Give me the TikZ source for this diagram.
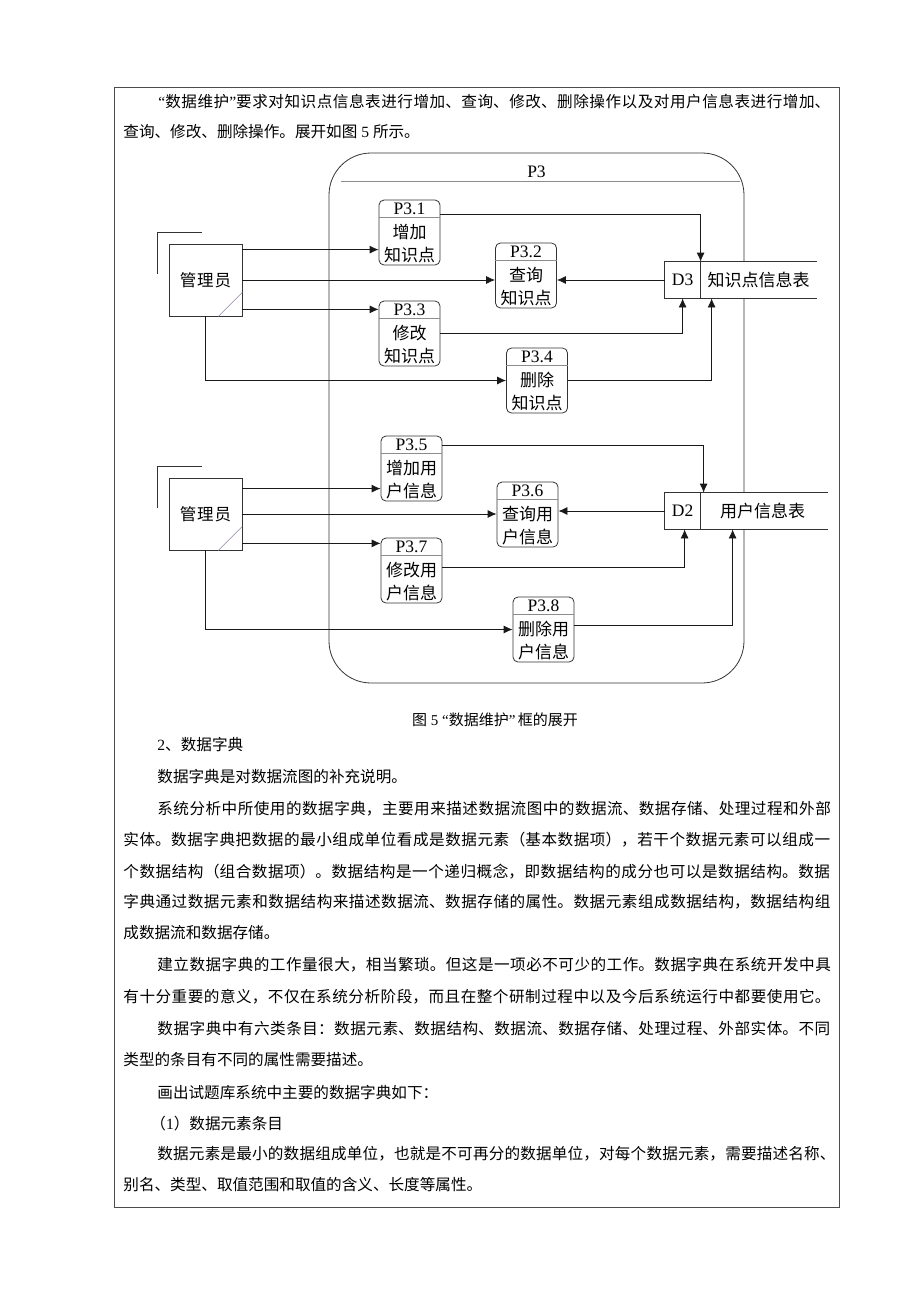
\documentclass[tikz,border=0pt]{standalone}
\usepackage{fontspec}
\setmainfont{Liberation Serif}
\newfontfamily\cjk{Noto Sans CJK SC}
\newfontfamily\latin{Liberation Serif}
\usetikzlibrary{arrows.meta,calc}
\XeTeXlinebreaklocale "zh"
\XeTeXlinebreakskip=0pt plus 2pt
\definecolor{diagc}{RGB}{150,130,165}
\newcommand\bodyfont{\cjk\fontsize{15.6}{18}\selectfont}
\newcommand\fullline[3]{\node[anchor=west,inner sep=0pt,text width=#2pt,font=\bodyfont] at (#1) {\noindent\parfillskip=0pt #3\par};}
\newcommand\natline[2]{\node[anchor=west,inner sep=0pt,font=\bodyfont] at (#1) {#2};}
\newcommand\mkproc[6]{%
  \node[procbox] (#1) at (#2,#3+32.5) {};
  \draw[sepline] ($(#1.north west)+(0,18)$) -- ($(#1.north east)+(0,18)$);
  \node[ptitle] at ($(#1.north)+(0,9.5)$) {#4};
  \node[ptext] at ($(#1.north)+(0,32)$) {#5};
  \node[ptext] at ($(#1.north)+(0,55)$) {#6};
}
\begin{document}
\begin{tikzpicture}[x=1pt,y=-1pt,line width=0.8pt,
  flow/.style={draw=black!90,-{Latex[length=9pt,width=8pt]}},
  procbox/.style={draw=black!80,rounded corners=5pt,minimum width=61pt,minimum height=65pt,inner sep=0pt,fill=white},
  sepline/.style={draw=black!45,line width=0.6pt},
  ptitle/.style={font=\latin\fontsize{17.5}{17.5}\selectfont,inner sep=0pt},
  ptext/.style={font=\cjk\fontsize{17}{17}\selectfont,inner sep=0pt},
  extbox/.style={draw=black!80,minimum width=73pt,minimum height=72pt,inner sep=0pt,font=\cjk\fontsize{16.5}{17}\selectfont},
  storebox/.style={minimum height=36pt,inner sep=0pt,fill=white},
  storetext/.style={font=\cjk\fontsize{17}{17}\selectfont,inner sep=0pt}]
\useasboundingbox (0,0) rectangle (920,1302);
\fill[white] (0,0) rectangle (920,1302);
% page frame
\draw[draw=black!70,line width=0.9pt] (114,87) rectangle (839,1207);

% text above
\fullline{158,102}{680}{{\latin “}数据维护{\latin ”}要求对知识点信息表进行增加、查询、修改、删除操作以及对用户信息表进行增加、}
\natline{123,132}{查询、修改、删除操作。展开如图{\latin\ 5 }所示。}

% P3 container
\node[draw=black!80,rounded corners=42pt,minimum width=415pt,minimum height=530pt,inner sep=0pt] (p3) at (536.5,418) {};
\node[ptitle] at ($(p3.north)+(0,19)$) {P3};
\draw[sepline] ($(p3.north west)+(12,29)$) -- ($(p3.north east)+(-4,29)$);

% external entities
\node[extbox] (m1) at (205.5,280) {管\hspace{1pt}理\hspace{1pt}员};
\draw[draw=black!80] ($(m1.north west)+(-11,30)$) -- ($(m1.north west)+(-11,-11)$) -- ($(m1.north west)+(33,-11)$);
\draw[draw=diagc,line width=0.6pt] ($(m1.south east)+(-24,0)$) -- ($(m1.south east)+(0,-24)$);
\node[extbox] (m2) at (205.5,514) {管\hspace{1pt}理\hspace{1pt}员};
\draw[draw=black!80] ($(m2.north west)+(-11,30)$) -- ($(m2.north west)+(-11,-11)$) -- ($(m2.north west)+(33,-11)$);
\draw[draw=diagc,line width=0.6pt] ($(m2.south east)+(-24,0)$) -- ($(m2.south east)+(0,-24)$);

% data stores
\node[storebox,minimum width=152pt] (d3) at (741,280) {};
\draw[draw=black!80] (d3.north east) -- (d3.north west) -- (d3.south west) -- (d3.south east);
\draw[draw=black!80] ($(d3.north west)+(36,0)$) -- ($(d3.south west)+(36,0)$);
\node[ptitle] at ($(d3.west)+(18,0)$) {D3};
\node[storetext] at ($(d3.west)+(94,0)$) {知识点信息表};
\node[storebox,minimum width=163pt] (d2) at (746.5,511) {};
\draw[draw=black!80] (d2.north east) -- (d2.north west) -- (d2.south west) -- (d2.south east);
\draw[draw=black!80] ($(d2.north west)+(36,0)$) -- ($(d2.south west)+(36,0)$);
\node[ptitle] at ($(d2.west)+(18,0)$) {D2};
\node[storetext] at ($(d2.west)+(98,0)$) {用户信息表};

% processes
\mkproc{p31}{409.5}{200}{P3.1}{增加}{知识点}
\mkproc{p32}{526}{243}{P3.2}{查询}{知识点}
\mkproc{p33}{409.5}{301}{P3.3}{修改}{知识点}
\mkproc{p34}{537}{348}{P3.4}{删除}{知识点}
\mkproc{p35}{411.5}{436}{P3.5}{增加用}{户信息}
\mkproc{p36}{527.5}{482}{P3.6}{查询用}{户信息}
\mkproc{p37}{411.5}{538}{P3.7}{修改用}{户信息}
\mkproc{p38}{543.5}{597}{P3.8}{删除用}{户信息}

% coordinates on stores
\coordinate (d3a) at ($(d3.north west)+(36,0)$);
\coordinate (d3b) at ($(d3.south west)+(18,0)$);
\coordinate (d3c) at ($(d3.south west)+(47,0)$);
\coordinate (d2a) at ($(d2.north west)+(39,0)$);
\coordinate (d2b) at ($(d2.south west)+(20,0)$);
\coordinate (d2c) at ($(d2.south west)+(68,0)$);

% flows group 1
\draw[flow] ($(m1.north east)+(0,6)$) -- (p31.west |- {$(m1.north east)+(0,6)$});
\draw[flow] (m1.east) -- (p32.west |- m1.east);
\draw[flow] ($(m1.south east)+(0,-7)$) -- (p33.west |- {$(m1.south east)+(0,-7)$});
\draw[flow] (m1.south) |- (p34.west);
\draw[flow] ($(p31.north east)+(0,15)$) -| (d3a);
\draw[flow] (d3.west) -- (p32.east |- d3.west);
\draw[flow] ($(p33.north east)+(0,33)$) -| (d3b);
\draw[flow] (p34.east) -| (d3c);

% flows group 2
\draw[flow] ($(m2.north east)+(0,11)$) -- (p35.west |- {$(m2.north east)+(0,11)$});
\draw[flow] (m2.east) -- (p36.west |- m2.east);
\draw[flow] ($(m2.south east)+(0,-7)$) -- (p37.west |- {$(m2.south east)+(0,-7)$});
\draw[flow] (m2.south) |- (p38.west);
\draw[flow] ($(p35.north east)+(0,10)$) -| (d2a);
\draw[flow] (d2.west) -- (p36.east |- d2.west);
\draw[flow] ($(p37.north east)+(0,30)$) -| (d2b);
\draw[flow] ($(p38.north east)+(0,29)$) -| (d2c);

% caption and text below
\node[font=\cjk\fontsize{15}{17}\selectfont,inner sep=0pt] (cap) at (495,720) {图{\latin\ 5 }{\latin “}数据维护{\latin ”}\,框的展开};
\natline{157,745}{{\latin 2}、数据字典}
\natline{157,777}{数据字典是对数据流图的补充说明。}
\fullline{157,809}{681}{系统分析中所使用的数据字典，主要用来描述数据流图中的数据流、数据存储、处理过程和外部}
\fullline{123,840}{715}{实体。数据字典把数据的最小组成单位看成是数据元素（基本数据项），若干个数据元素可以组成一}
\fullline{123,872}{715}{个数据结构（组合数据项）。数据结构是一个递归概念，即数据结构的成分也可以是数据结构。数据}
\fullline{123,902}{715}{字典通过数据元素和数据结构来描述数据流、数据存储的属性。数据元素组成数据结构，数据结构组}
\natline{123,933}{成数据流和数据存储。}
\fullline{157,965}{681}{建立数据字典的工作量很大，相当繁琐。但这是一项必不可少的工作。数据字典在系统开发中具}
\fullline{123,997}{715}{有十分重要的意义，不仅在系统分析阶段，而且在整个研制过程中以及今后系统运行中都要使用它。}
\fullline{157,1029}{681}{数据字典中有六类条目：数据元素、数据结构、数据流、数据存储、处理过程、外部实体。不同}
\natline{123,1060}{类型的条目有不同的属性需要描述。}
\natline{157,1093}{画出试题库系统中主要的数据字典如下：}
\natline{150,1124}{（{\latin 1}）数据元素条目}
\fullline{157,1154}{681}{数据元素是最小的数据组成单位，也就是不可再分的数据单位，对每个数据元素，需要描述名称、}
\natline{123,1185}{别名、类型、取值范围和取值的含义、长度等属性。}
\end{tikzpicture}
\end{document}
